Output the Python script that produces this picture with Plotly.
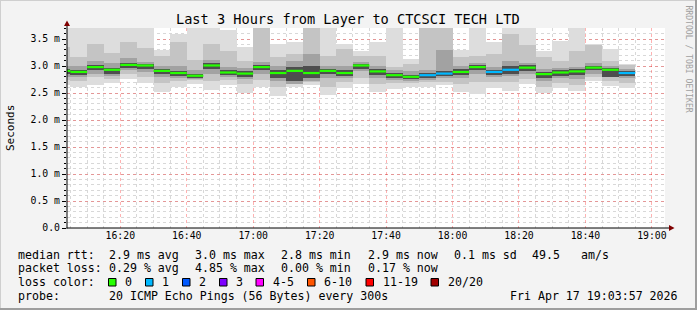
import plotly.graph_objects as go
import pandas as pd

# ---------------- data ----------------
title_text = "Last 3 Hours from Layer to CTCSCI TECH LTD"
bar_start = pd.date_range("2026-04-17 16:00", periods=35, freq="5min")
x_range = ["2026-04-17 16:03:57", "2026-04-17 19:03:57"]

median_ms = [2.91, 2.89, 2.98, 2.93, 3.02, 3.01, 2.91, 2.87, 2.82, 3.01,
             2.88, 2.86, 2.98, 2.87, 2.91, 2.87, 2.91, 2.87, 3.01, 2.90,
             2.83, 2.80, 2.83, 2.86, 2.89, 2.98, 2.89, 2.93, 2.97, 2.85,
             2.88, 2.90, 2.97, 2.93, 2.87]
lost_pings = [0, 0, 0, 0, 0, 0, 0, 0, 0, 0,
              0, 0, 0, 0, 0, 0, 0, 0, 0, 0,
              0, 0, 1, 1, 0, 0, 1, 1, 0, 0,
              0, 0, 0, 0, 1]

# smoke bands (outer -> inner), upper and lower edges in ms
smoke_hi1 = [3.80, 3.80, 3.80, 3.80, 3.80, 3.80, 3.30, 3.59, 3.80, 3.80,
             3.66, 3.35, 3.80, 3.41, 3.44, 3.80, 3.80, 3.41, 3.28, 3.44,
             3.80, 3.13, 3.80, 3.80, 3.30, 3.80, 3.44, 3.80, 3.80, 3.28,
             3.47, 3.80, 3.40, 3.31, 3.04]
smoke_lo1 = [2.64, 2.62, 2.64, 2.68, 2.76, 2.68, 2.52, 2.62, 2.67, 2.56,
             2.64, 2.50, 2.62, 2.45, 2.61, 2.64, 2.47, 2.60, 2.67, 2.51,
             2.57, 2.61, 2.62, 2.64, 2.51, 2.49, 2.60, 2.54, 2.66, 2.50,
             2.59, 2.53, 2.72, 2.63, 2.59]
smoke_hi2 = [3.35, 3.16, 3.40, 3.25, 3.45, 3.33, 3.19, 3.45, 3.11, 3.40,
             3.28, 3.10, 3.80, 3.16, 3.22, 3.80, 3.19, 3.31, 3.19, 3.19,
             2.98, 3.04, 3.80, 3.80, 3.16, 3.19, 3.22, 3.59, 3.38, 3.16,
             3.10, 3.28, 3.38, 3.10, 3.01]
smoke_lo2 = [2.75, 2.72, 2.80, 2.76, 2.85, 2.80, 2.68, 2.72, 2.74, 2.72,
             2.74, 2.66, 2.75, 2.62, 2.68, 2.70, 2.62, 2.70, 2.78, 2.66,
             2.68, 2.68, 2.70, 2.70, 2.66, 2.70, 2.70, 2.70, 2.76, 2.62,
             2.68, 2.64, 2.80, 2.72, 2.68]
smoke_hi3 = [3.00, 3.00, 3.10, 3.05, 3.15, 3.08, 3.00, 3.00, 2.92, 3.12,
             2.98, 2.96, 3.08, 3.00, 3.10, 3.22, 3.00, 3.00, 3.08, 3.00,
             2.92, 2.90, 2.92, 3.30, 3.00, 3.06, 2.98, 3.10, 3.05, 2.94,
             2.96, 2.98, 3.05, 3.00, 2.94]
smoke_lo3 = [2.80, 2.80, 2.85, 2.82, 2.92, 2.88, 2.80, 2.78, 2.76, 2.86,
             2.80, 2.76, 2.86, 2.72, 2.66, 2.72, 2.78, 2.78, 2.90, 2.78,
             2.74, 2.72, 2.75, 2.78, 2.78, 2.86, 2.80, 2.82, 2.86, 2.72,
             2.78, 2.76, 2.86, 2.80, 2.78]
smoke_hi4 = [2.95, 2.93, 3.02, 2.96, 3.06, 3.04, 2.95, 2.91, 2.86, 3.05,
             2.92, 2.90, 3.02, 2.92, 2.98, 3.00, 2.95, 2.92, 3.04, 2.94,
             2.87, 2.84, 2.87, 2.90, 2.94, 3.02, 2.93, 3.00, 3.01, 2.89,
             2.92, 2.94, 3.00, 2.96, 2.90]
smoke_lo4 = [2.86, 2.84, 2.92, 2.86, 2.97, 2.94, 2.85, 2.82, 2.78, 2.94,
             2.84, 2.80, 2.92, 2.78, 2.72, 2.78, 2.85, 2.82, 2.95, 2.83,
             2.78, 2.76, 2.78, 2.82, 2.84, 2.92, 2.84, 2.86, 2.90, 2.78,
             2.82, 2.84, 2.92, 2.80, 2.82]
smoke_colors = ["#dddddd", "#c4c4c4", "#a2a2a2", "#4e4e4e"]

loss_labels = ["0", "1", "2", "3", "4-5", "6-10", "11-19", "20/20"]
loss_colors = ["#26ff00", "#00b8ff", "#0059ff", "#7e00ff", "#ff00ff",
               "#ff5500", "#ff0000", "#a10000"]

y_tickvals = [0.0, 0.5, 1.0, 1.5, 2.0, 2.5, 3.0, 3.5]
y_ticktext = ["0.0", "0.5 m", "1.0 m", "1.5 m", "2.0 m", "2.5 m", "3.0 m", "3.5 m"]

stats_rtt = ["median rtt:", "2.9 ms avg", "3.0 ms max", "2.8 ms min",
             "2.9 ms now", "0.1 ms sd", "49.5", "am/s"]
stats_loss = ["packet loss:", "0.29 % avg", "4.85 % max", "0.00 % min", "0.17 % now"]
probe_text = ["probe:", "20 ICMP Echo Pings (56 Bytes) every 300s"]
stamp_text = "Fri Apr 17 19:03:57 2026"

# ---------------- layout geometry (pixels) ----------------
W, H = 697, 310
L, R, T, B = 67, 665, 28, 228
PW, PH = R - L, B - T
MONO = "DejaVu Sans Mono"


def pxx(x):
    return (x - L) / PW


def pxy(y):
    return (B - y) / PH


fig = go.Figure()

BAR_MS = 300000
bands = [(smoke_hi1, smoke_lo1), (smoke_hi2, smoke_lo2),
         (smoke_hi3, smoke_lo3), (smoke_hi4, smoke_lo4)]
for (hi, lo), col in zip(bands, smoke_colors):
    fig.add_trace(go.Bar(
        x=bar_start, y=[h - l for h, l in zip(hi, lo)], base=lo,
        width=BAR_MS, offset=0, marker=dict(color=col, line=dict(width=0)),
        hoverinfo="skip", showlegend=False))


def loss_index(n):
    if n <= 3:
        return n
    if n <= 5:
        return 4
    if n <= 10:
        return 5
    if n <= 19:
        return 6
    return 7


groups = {}
for t, m, n in zip(bar_start, median_ms, lost_pings):
    k = loss_index(n)
    xs, ys = groups.setdefault(k, ([], []))
    xs += [t, t + pd.Timedelta(minutes=5), None]
    ys += [m, m, None]
for k, (xs, ys) in sorted(groups.items()):
    fig.add_trace(go.Scatter(x=xs, y=ys, mode="lines",
                             line=dict(color=loss_colors[k], width=2.2),
                             hoverinfo="skip", showlegend=False))

shapes = []
# frame
shapes.append(dict(type="line", xref="paper", yref="paper", x0=pxx(0), x1=pxx(W), y0=pxy(0.5), y1=pxy(0.5),
                   line=dict(color="#cfcfcf", width=1)))
shapes.append(dict(type="line", xref="paper", yref="paper", x0=pxx(0.5), x1=pxx(0.5), y0=pxy(0), y1=pxy(H),
                   line=dict(color="#cfcfcf", width=1)))
shapes.append(dict(type="line", xref="paper", yref="paper", x0=pxx(0), x1=pxx(W), y0=pxy(H - 1), y1=pxy(H - 1),
                   line=dict(color="#9e9e9e", width=2)))
shapes.append(dict(type="line", xref="paper", yref="paper", x0=pxx(W - 1), x1=pxx(W - 1), y0=pxy(0), y1=pxy(H),
                   line=dict(color="#9e9e9e", width=2)))
# axes lines and arrows
shapes.append(dict(type="line", xref="paper", yref="paper", x0=pxx(L), x1=pxx(L), y0=pxy(B + 0.5), y1=pxy(24),
                   line=dict(color="#000000", width=1)))
shapes.append(dict(type="line", xref="paper", yref="paper", x0=pxx(L - 0.5), x1=pxx(670), y0=pxy(B), y1=pxy(B),
                   line=dict(color="#000000", width=1)))
shapes.append(dict(type="path", xref="paper", yref="paper",
                   path=f"M {pxx(L - 3)} {pxy(26)} L {pxx(L + 3)} {pxy(26)} L {pxx(L)} {pxy(20.5)} Z",
                   fillcolor="#7f0000", line=dict(width=0)))
shapes.append(dict(type="path", xref="paper", yref="paper",
                   path=f"M {pxx(669)} {pxy(B - 3)} L {pxx(669)} {pxy(B + 3)} L {pxx(674.5)} {pxy(B)} Z",
                   fillcolor="#7f0000", line=dict(width=0)))

annotations = []


def txt(x, y, s, size=11.6, anchor="left", color="#000000", angle=0):
    annotations.append(dict(x=pxx(x), y=pxy(y), xref="paper", yref="paper", text=s, showarrow=False,
                            xanchor=anchor, yanchor="middle", textangle=angle,
                            font=dict(family=MONO, size=size, color=color)))


txt(348, 19, title_text, size=13.6, anchor="center")
txt(10, 128, "Seconds", size=11, anchor="center", angle=-90)
txt(688.5, 59, "RRDTOOL / TOBI OETIKER", size=8.1, anchor="center", color="#a0a0a0", angle=90)

rtt_x = [16, 107, 193, 279, 366, 452, 530, 579]
for x, s in zip(rtt_x, stats_rtt):
    txt(x, 254.5, s)
loss_x = [16, 107, 193, 279, 366]
for x, s in zip(loss_x, stats_loss):
    txt(x, 268.3, s)
txt(16, 282.2, "loss color:")
sw_x = [108.5, 145.5, 182.5, 219.5, 256, 307.5, 366, 431]
for x, lab, col in zip(sw_x, loss_labels, loss_colors):
    shapes.append(dict(type="rect", xref="paper", yref="paper", x0=pxx(x), x1=pxx(x + 7.5),
                       y0=pxy(278.5), y1=pxy(286), fillcolor=col, line=dict(color="#000000", width=1)))
    txt(x + 14.5, 282.2, lab)
txt(16, 296, probe_text[0])
txt(107, 296, probe_text[1])
txt(680, 296, stamp_text, anchor="right")

fig.update_layout(
    width=W, height=H,
    margin=dict(l=L, r=W - R, t=T, b=H - B, pad=0),
    paper_bgcolor="#f3f3f3", plot_bgcolor="#ffffff",
    barmode="overlay", bargap=0,
    showlegend=False,
    shapes=shapes, annotations=annotations,
    font=dict(family=MONO, size=9.8, color="#000000"),
)
fig.update_xaxes(
    type="date", range=x_range, dtick=1200000, tickformat="%H:%M",
    showgrid=True, gridcolor="rgba(255,0,0,0.30)", griddash="dot", gridwidth=1,
    minor=dict(dtick=300000, showgrid=True, gridcolor="#d8d8d8", griddash="dot", gridwidth=1),
    ticks="", showline=False, zeroline=False, fixedrange=True,
    tickfont=dict(family=MONO, size=9.8, color="#000000"),
)
fig.update_yaxes(
    range=[0, 3.704], tickvals=y_tickvals, ticktext=y_ticktext,
    showgrid=True, gridcolor="rgba(255,0,0,0.30)", griddash="dot", gridwidth=1,
    minor=dict(dtick=0.1, showgrid=True, gridcolor="#d8d8d8", griddash="dot", gridwidth=1,
               ticks="outside", ticklen=2, tickcolor="#000000"),
    ticks="outside", ticklen=4, tickcolor="#000000",
    showline=False, zeroline=False, fixedrange=True,
    tickfont=dict(family=MONO, size=9.8, color="#000000"),
)

fig.write_html("out.html")
